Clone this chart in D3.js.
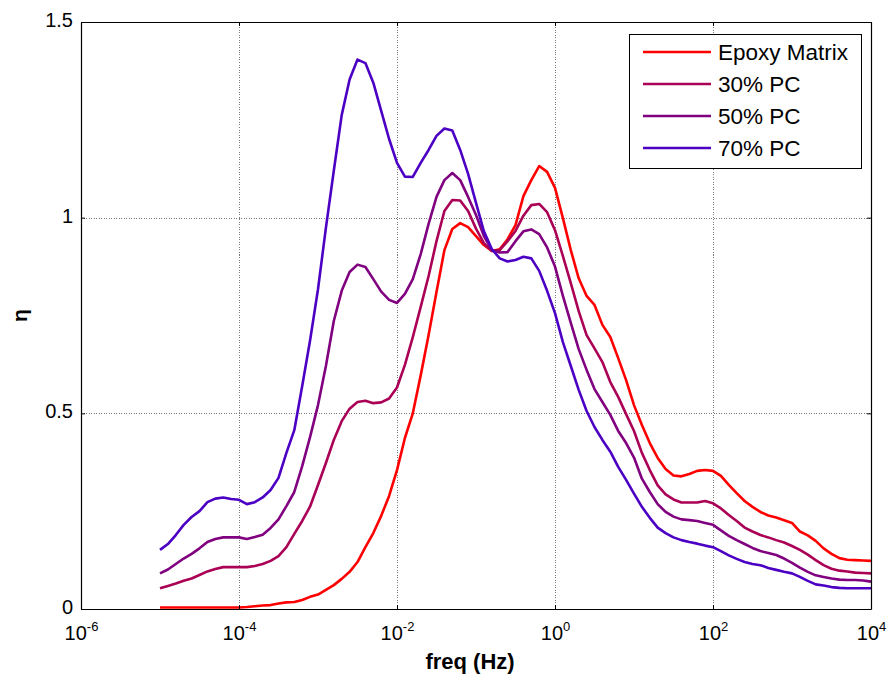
<!DOCTYPE html>
<html>
<head>
<meta charset="utf-8">
<script src="https://cdn.jsdelivr.net/npm/d3@7"></script>
<style>
  html, body { margin: 0; padding: 0; background: #fff; }
  svg { display: block; font-family: "Liberation Sans", Arial, sans-serif; }
</style>
</head>
<body>
<svg id="chart" width="888" height="676"></svg>
<script>
// Frequency grid: base-10 exponents of freq (Hz), one point every 0.1 decade
const freqExponent = [
  -5.0,-4.9,-4.8,-4.7,-4.6,-4.5,-4.4,-4.3,-4.2,-4.1,
  -4.0,-3.9,-3.8,-3.7,-3.6,-3.5,-3.4,-3.3,-3.2,-3.1,
  -3.0,-2.9,-2.8,-2.7,-2.6,-2.5,-2.4,-2.3,-2.2,-2.1,
  -2.0,-1.9,-1.8,-1.7,-1.6,-1.5,-1.4,-1.3,-1.2,-1.1,
  -1.0,-0.9,-0.8,-0.7,-0.6,-0.5,-0.4,-0.3,-0.2,-0.1,
   0.0, 0.1, 0.2, 0.3, 0.4, 0.5, 0.6, 0.7, 0.8, 0.9,
   1.0, 1.1, 1.2, 1.3, 1.4, 1.5, 1.6, 1.7, 1.8, 1.9,
   2.0, 2.1, 2.2, 2.3, 2.4, 2.5, 2.6, 2.7, 2.8, 2.9,
   3.0, 3.1, 3.2, 3.3, 3.4, 3.5, 3.6, 3.7, 3.8, 3.9,
   4.0
];

// Loss factor η for each material
const epoxyMatrix = [
  0.004,0.004,0.004,0.004,0.004,0.004,0.004,0.004,0.004,0.004,
  0.004,0.005,0.007,0.009,0.010,0.014,0.017,0.018,0.023,0.031,
  0.037,0.049,0.061,0.077,0.095,0.120,0.158,0.194,0.238,0.289,
  0.355,0.437,0.500,0.597,0.700,0.810,0.917,0.971,0.986,0.976,
  0.953,0.930,0.915,0.919,0.945,0.981,1.055,1.096,1.132,1.117,
  1.076,0.999,0.917,0.845,0.800,0.777,0.726,0.695,0.641,0.585,
  0.521,0.470,0.424,0.386,0.358,0.341,0.339,0.345,0.353,0.355,
  0.353,0.340,0.317,0.296,0.276,0.261,0.248,0.239,0.234,0.227,
  0.220,0.198,0.188,0.174,0.155,0.141,0.130,0.126,0.125,0.124,
  0.123
];
const pc30 = [
  0.053,0.059,0.065,0.072,0.078,0.087,0.096,0.102,0.107,0.107,
  0.107,0.107,0.110,0.115,0.123,0.135,0.158,0.192,0.225,0.262,
  0.317,0.373,0.432,0.480,0.512,0.529,0.532,0.526,0.528,0.538,
  0.566,0.624,0.695,0.772,0.851,0.940,1.017,1.045,1.044,1.017,
  0.972,0.935,0.915,0.917,0.940,0.966,1.005,1.032,1.035,1.014,
  0.968,0.902,0.833,0.761,0.700,0.666,0.631,0.580,0.542,0.498,
  0.455,0.399,0.355,0.316,0.293,0.280,0.272,0.272,0.272,0.276,
  0.270,0.257,0.240,0.225,0.208,0.198,0.189,0.183,0.176,0.170,
  0.161,0.151,0.139,0.125,0.112,0.103,0.098,0.096,0.093,0.092,
  0.091
];
const pc50 = [
  0.091,0.101,0.115,0.129,0.141,0.155,0.171,0.179,0.183,0.183,
  0.183,0.179,0.184,0.190,0.207,0.229,0.263,0.299,0.365,0.440,
  0.521,0.621,0.736,0.813,0.861,0.880,0.874,0.843,0.811,0.790,
  0.782,0.805,0.843,0.907,0.984,1.053,1.096,1.114,1.096,1.053,
  1.007,0.953,0.917,0.911,0.912,0.940,0.965,0.970,0.958,0.924,
  0.875,0.800,0.731,0.664,0.611,0.562,0.529,0.496,0.455,0.424,
  0.387,0.333,0.299,0.268,0.248,0.236,0.229,0.227,0.225,0.220,
  0.215,0.201,0.187,0.176,0.166,0.156,0.148,0.143,0.138,0.129,
  0.118,0.106,0.095,0.086,0.082,0.078,0.075,0.074,0.074,0.073,
  0.070
];
const pc70 = [
  0.151,0.166,0.189,0.215,0.235,0.250,0.273,0.282,0.285,0.281,
  0.279,0.268,0.273,0.285,0.304,0.335,0.399,0.457,0.570,0.687,
  0.817,0.974,1.120,1.262,1.353,1.404,1.395,1.345,1.273,1.201,
  1.140,1.105,1.104,1.140,1.173,1.209,1.228,1.223,1.173,1.112,
  1.038,0.965,0.920,0.896,0.888,0.892,0.900,0.896,0.864,0.813,
  0.756,0.682,0.621,0.560,0.506,0.465,0.432,0.402,0.363,0.330,
  0.295,0.261,0.233,0.208,0.194,0.183,0.176,0.171,0.167,0.162,
  0.158,0.148,0.137,0.128,0.120,0.115,0.112,0.105,0.100,0.095,
  0.091,0.082,0.072,0.063,0.060,0.056,0.054,0.053,0.053,0.053,
  0.053
];

const seriesNames  = ["Epoxy Matrix", "30% PC", "50% PC", "70% PC"];
const seriesValues = [epoxyMatrix, pc30, pc50, pc70];
const seriesColors = ["#ff0000", "#aa0055", "#80007f", "#4c00c4"];

const xTickExponents = [-6, -4, -2, 0, 2, 4];
const yTickValues = [0, 0.5, 1, 1.5];
const yTickLabels = ["0", "0.5", "1", "1.5"];

const svg = d3.select("#chart");
const plot = { left: 81, right: 871, top: 22, bottom: 609 };

const x = d3.scaleLog().domain([1e-6, 1e4]).range([plot.left, plot.right]);
const y = d3.scaleLinear().domain([0, 1.5]).range([plot.bottom, plot.top]);

const xTicks = xTickExponents.map(e => Math.pow(10, e));

// grid lines (dotted)
const grid = svg.append("g").attr("stroke", "#7a7a7a").attr("stroke-width", 1)
  .attr("stroke-dasharray", "1,1.5").attr("shape-rendering", "crispEdges");
grid.selectAll("line.gx").data(xTicks.slice(1, -1)).join("line")
  .attr("x1", d => Math.round(x(d)) + 0.5).attr("x2", d => Math.round(x(d)) + 0.5)
  .attr("y1", plot.top).attr("y2", plot.bottom);
grid.selectAll("line.gy").data(yTickValues.slice(1, -1)).join("line")
  .attr("y1", d => Math.round(y(d)) + 0.5).attr("y2", d => Math.round(y(d)) + 0.5)
  .attr("x1", plot.left).attr("x2", plot.right);

// curves
const points = freqExponent.map(e => Math.pow(10, e));
const line = d3.line().x(d => x(d[0])).y(d => y(d[1]));
seriesValues.forEach((vals, i) => {
  svg.append("path")
    .datum(points.map((f, k) => [f, vals[k]]))
    .attr("fill", "none")
    .attr("stroke", seriesColors[i])
    .attr("stroke-width", 2.6)
    .attr("stroke-linejoin", "round")
    .attr("d", line);
});

// axes with inward ticks
const tickLen = 4;
const fmtY = d => yTickLabels[yTickValues.indexOf(d)];

const gxb = svg.append("g").attr("transform", `translate(0,${plot.bottom})`)
  .call(d3.axisBottom(x).tickValues(xTicks).tickSizeInner(-tickLen).tickSizeOuter(0).tickPadding(12));
const gxt = svg.append("g").attr("transform", `translate(0,${plot.top})`)
  .call(d3.axisTop(x).tickValues(xTicks).tickSizeInner(-tickLen).tickSizeOuter(0).tickFormat(""));
const gyl = svg.append("g").attr("transform", `translate(${plot.left},0)`)
  .call(d3.axisLeft(y).tickValues(yTickValues).tickSizeInner(-tickLen).tickSizeOuter(0).tickPadding(8).tickFormat(fmtY));
const gyr = svg.append("g").attr("transform", `translate(${plot.right},0)`)
  .call(d3.axisRight(y).tickValues(yTickValues).tickSizeInner(-tickLen).tickSizeOuter(0).tickFormat(""));

[gxb, gxt, gyl, gyr].forEach(g => {
  g.select(".domain").attr("stroke", "#000").attr("stroke-width", 1.2);
  g.selectAll(".tick line").attr("stroke", "#000");
  g.selectAll("text").attr("fill", "#000").attr("font-family", "Liberation Sans, Arial, sans-serif");
});

gyl.selectAll("text").attr("font-size", 20).attr("dy", "0.22em");

// power-of-ten tick labels
gxb.selectAll(".tick text").each(function(d) {
  const t = d3.select(this);
  const e = Math.round(Math.log10(d));
  t.text(null).attr("font-size", 20).attr("dy", null).attr("y", 31);
  t.append("tspan").text("10");
  t.append("tspan").attr("font-size", 13).attr("dy", -9).text(String(e));
});

// axis titles
svg.append("text")
  .attr("x", 470).attr("y", 669)
  .attr("text-anchor", "middle").attr("font-size", 22).attr("font-weight", "bold")
  .text("freq (Hz)");
svg.append("text")
  .attr("transform", `translate(27,${(plot.top + plot.bottom) / 2}) rotate(-90)`)
  .attr("text-anchor", "middle").attr("font-size", 21).attr("font-weight", "bold")
  .text("η");

// legend
const lg = svg.append("g");
lg.append("rect").attr("x", 629.5).attr("y", 34.5).attr("width", 232).attr("height", 134)
  .attr("fill", "#fff").attr("stroke", "#000").attr("stroke-width", 1);
const rowY = [52, 84, 116, 148];
seriesNames.forEach((name, i) => {
  lg.append("line").attr("x1", 643).attr("x2", 711).attr("y1", rowY[i]).attr("y2", rowY[i])
    .attr("stroke", seriesColors[i]).attr("stroke-width", 2.6);
  lg.append("text").attr("x", 718).attr("y", rowY[i]).attr("dy", "0.36em")
    .attr("font-size", 22.5).attr("fill", "#000").text(name);
});
</script>
</body>
</html>
